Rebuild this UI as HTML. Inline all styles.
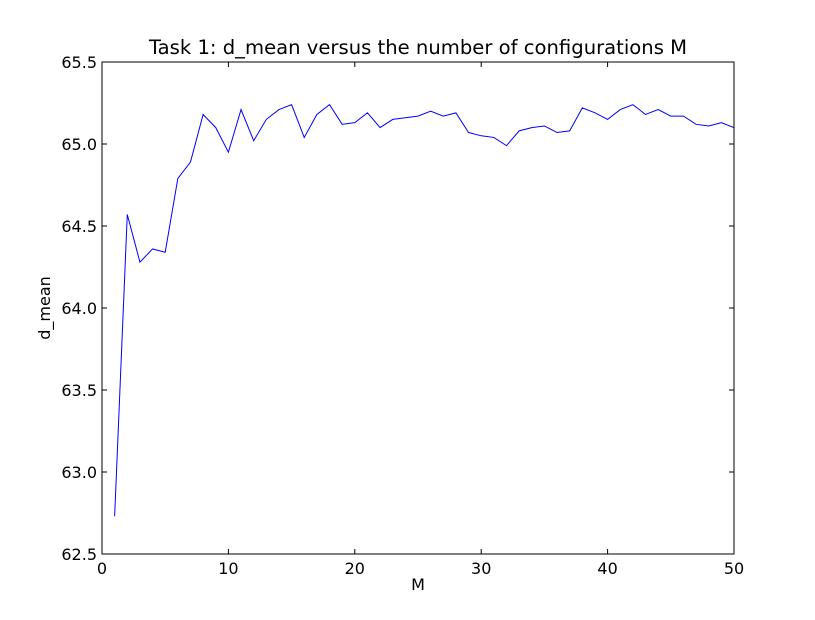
<!DOCTYPE html>
<html><head><meta charset="utf-8"><style>
body{margin:0;background:#fff;}
svg text{font-family:"DejaVu Sans","Liberation Sans",sans-serif;fill:#000;}
</style></head><body>
<svg id="chart" width="815" height="615">
<rect width="815" height="615" fill="#fff"/>
<text x="418" y="54" font-size="19.6" text-anchor="middle">Task 1: d_mean versus the number of configurations M</text>
<text x="418" y="590" font-size="16" text-anchor="middle">M</text>
<text x="50" y="308" font-size="16" text-anchor="middle" transform="rotate(-90 50 308)">d_mean</text>
<g id="ticks"></g>
<path id="line" fill="none" stroke="#0000ff" stroke-width="1"/>
<rect x="102" y="62" width="632" height="492" fill="none" stroke="#000" stroke-width="1"/>
</svg>
<script>
const mValues=[1,2,3,4,5,6,7,8,9,10,11,12,13,14,15,16,17,18,19,20,21,22,23,24,25,26,27,28,29,30,31,32,33,34,35,36,37,38,39,40,41,42,43,44,45,46,47,48,49,50];
const dMean=[62.73,64.57,64.28,64.36,64.34,64.79,64.89,65.18,65.10,64.95,65.21,65.02,65.15,65.21,65.24,65.04,65.18,65.24,65.12,65.13,65.19,65.10,65.15,65.16,65.17,65.20,65.17,65.19,65.07,65.05,65.04,64.99,65.08,65.10,65.11,65.07,65.08,65.22,65.19,65.15,65.21,65.24,65.18,65.21,65.17,65.17,65.12,65.11,65.13,65.10];
const xTicks=[0,10,20,30,40,50];
const yTicks=[62.5,63.0,63.5,64.0,64.5,65.0,65.5];
const yTickLabels=["62.5","63.0","63.5","64.0","64.5","65.0","65.5"];
const L=102,R=734,T=62,B=554;
const xs=v=>L+(v-0)/(50-0)*(R-L);
const ys=v=>B-(v-62.5)/(65.5-62.5)*(B-T);
const NS="http://www.w3.org/2000/svg";
const g=document.getElementById('ticks');
function mk(tag,attrs){const e=document.createElementNS(NS,tag);for(const k in attrs)e.setAttribute(k,attrs[k]);return e;}
xTicks.forEach(v=>{
  const x=xs(v);
  const t1=mk('line',{x1:x,x2:x,y1:B,y2:B-5,stroke:'#000'});
  
  
  g.appendChild(t1);
  const t2=mk('line',{x1:x,x2:x,y1:T,y2:T+5,stroke:'#000'});
  
  
  g.appendChild(t2);
  const tx=mk('text',{x:x,y:B+20,'font-size':16,'text-anchor':'middle'});
  tx.textContent=String(v);
  
  
  g.appendChild(tx);
});
yTicks.forEach((v,i)=>{
  const y=ys(v);
  const t1=mk('line',{x1:L,x2:L+5,y1:y,y2:y,stroke:'#000'});
  
  
  g.appendChild(t1);
  const t2=mk('line',{x1:R,x2:R-5,y1:y,y2:y,stroke:'#000'});
  
  
  g.appendChild(t2);
  const tx=mk('text',{x:L-5,y:y+6,'font-size':16,'text-anchor':'end'});
  tx.textContent=yTickLabels[i];
  
  
  g.appendChild(tx);
});
document.getElementById('line').setAttribute('d',mValues.map((m,i)=>(i?'L':'M')+xs(m).toFixed(2)+' '+ys(dMean[i]).toFixed(2)).join(' '));
</script>
</body></html>
